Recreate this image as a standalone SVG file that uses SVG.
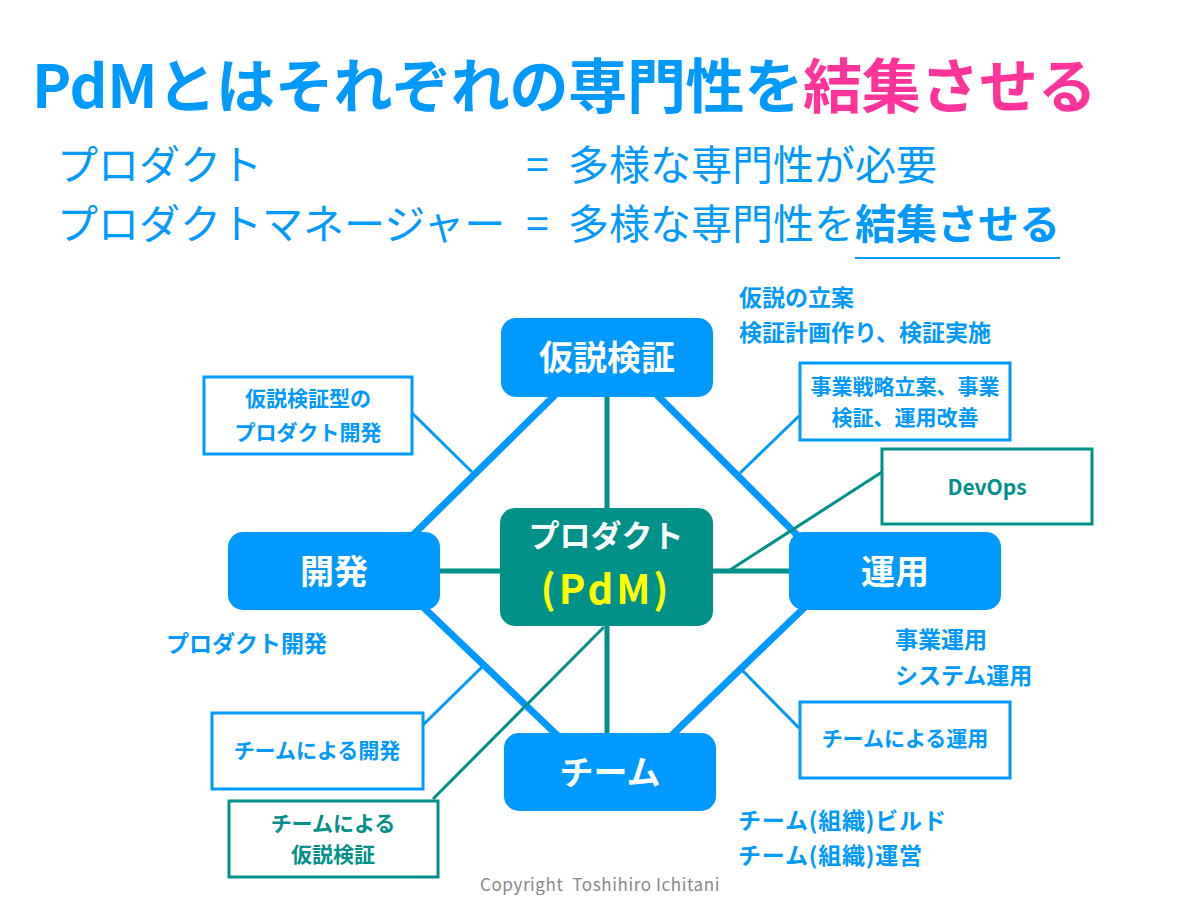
<svg xmlns="http://www.w3.org/2000/svg" width="1200" height="900" viewBox="0 0 1200 900">
<style>
text{font-family:"Noto Sans CJK JP","Noto Sans",sans-serif}
.title{font-size:59px;font-weight:bold;fill:#0099FF}
.pink{fill:#FF3399}
.sub{font-size:41px;fill:#0099FF;font-weight:normal}
.b{font-weight:bold}
.node{fill:#0099FF}
.pdm{fill:#00908A}
.nl{font-size:34px;font-weight:bold;fill:#fff;text-anchor:middle}
.ann{font-size:23px;font-weight:bold;fill:#0099FF}
.bt{font-size:21px;font-weight:bold;fill:#0099FF;text-anchor:middle}
.tt{fill:#00908A}
.boxb{fill:#fff;stroke:#0099FF;stroke-width:3}
.boxt{fill:#fff;stroke:#00908A;stroke-width:3}
.thick{stroke:#0099FF;stroke-width:7;fill:none}
.tl{stroke:#00908A;stroke-width:5;fill:none}
.thinb{stroke:#0099FF;stroke-width:3;fill:none}
.thint{stroke:#00908A;stroke-width:3;fill:none}
</style>
<rect width="1200" height="900" fill="#fff"/>
<text class="title" x="32" y="108" letter-spacing="-0.3">PdMとはそれぞれの専門性を<tspan class="pink">結集させる</tspan></text>
<text class="sub" x="57" y="180">プロダクト</text>
<text class="sub" x="526" y="180">=</text>
<text class="sub" x="568" y="180">多様な専門性が必要</text>
<text class="sub" x="57" y="239">プロダクトマネージャー</text>
<text class="sub" x="526" y="239">=</text>
<text class="sub" x="568" y="239">多様な専門性を<tspan class="b">結集させる</tspan></text>
<line x1="855" y1="258" x2="1060" y2="258" stroke="#0099FF" stroke-width="2"/>

<g id="connectors">
<line class="thick" x1="555" y1="395" x2="413" y2="535"/>
<line class="thick" x1="657" y1="395" x2="797" y2="535"/>
<line class="thick" x1="423" y1="607" x2="558" y2="736"/>
<line class="thick" x1="805" y1="607" x2="671" y2="736"/>
<line class="tl" x1="607" y1="397" x2="607" y2="508"/>
<line class="tl" x1="607" y1="626" x2="607" y2="733"/>
<line class="tl" x1="440" y1="571" x2="500" y2="571"/>
<line class="tl" x1="713" y1="571" x2="789" y2="571"/>
<line class="thint" x1="882" y1="472" x2="730" y2="570"/>
<line class="thint" x1="433" y1="799" x2="604" y2="627"/>
<line class="thinb" x1="412" y1="413" x2="472" y2="472"/>
<line class="thinb" x1="799" y1="416" x2="740" y2="473"/>
<line class="thinb" x1="423" y1="725" x2="482" y2="667"/>
<line class="thinb" x1="742" y1="670" x2="799" y2="728"/>
</g>

<g id="kasetsu">
<rect class="node" x="501" y="318" width="212" height="79" rx="15"/>
<text class="nl" x="607" y="370">仮説検証</text>
</g>
<g id="kaihatsu">
<rect class="node" x="228" y="532" width="212" height="78" rx="15"/>
<text class="nl" x="334" y="584">開発</text>
</g>
<g id="unyo">
<rect class="node" x="789" y="532" width="212" height="78" rx="15"/>
<text class="nl" x="895" y="584">運用</text>
</g>
<g id="team">
<rect class="node" x="504" y="733" width="212" height="78" rx="15"/>
<text class="nl" x="610" y="785">チーム</text>
</g>
<g id="pdm">
<rect class="pdm" x="500" y="508" width="213" height="118" rx="15"/>
<text x="606" y="547" font-size="31" font-weight="bold" fill="#fff" text-anchor="middle">プロダクト</text>
<text x="606" y="604" font-size="40" font-weight="bold" fill="#FFFF00" text-anchor="middle" letter-spacing="3">(PdM)</text>
</g>

<g id="box-kasetsu-dev">
<rect class="boxb" x="204" y="377" width="208" height="77"/>
<text class="bt" x="308" y="406">仮説検証型の</text>
<text class="bt" x="308" y="440">プロダクト開発</text>
</g>
<g id="box-jigyo">
<rect class="boxb" x="800" y="363" width="210" height="77"/>
<text class="bt" x="905" y="394">事業戦略立案、事業</text>
<text class="bt" x="905" y="425">検証、運用改善</text>
</g>
<g id="box-devops">
<rect class="boxt" x="882" y="449" width="210" height="75"/>
<text class="bt tt" x="987" y="495">DevOps</text>
</g>
<g id="box-team-dev">
<rect class="boxb" x="212" y="713" width="211" height="76"/>
<text class="bt" x="317" y="758">チームによる開発</text>
</g>
<g id="box-team-kasetsu">
<rect class="boxt" x="229" y="801" width="209" height="76"/>
<text class="bt tt" x="333" y="831">チームによる</text>
<text class="bt tt" x="333" y="862">仮説検証</text>
</g>
<g id="box-team-unyo">
<rect class="boxb" x="800" y="702" width="210" height="76"/>
<text class="bt" x="905" y="746">チームによる運用</text>
</g>

<g id="annotations">
<text class="ann" x="739" y="306">仮説の立案</text>
<text class="ann" x="739" y="341">検証計画作り、検証実施</text>
<text class="ann" x="166" y="652">プロダクト開発</text>
<text class="ann" x="895" y="648">事業運用</text>
<text class="ann" x="895" y="684">システム運用</text>
<text class="ann" x="738" y="829" letter-spacing="0.8">チーム(組織)ビルド</text>
<text class="ann" x="738" y="864" letter-spacing="0.8">チーム(組織)運営</text>
</g>
<text x="480" y="891" font-size="17" fill="#888" letter-spacing="0.6" style="white-space:pre">Copyright  Toshihiro Ichitani</text>
</svg>
